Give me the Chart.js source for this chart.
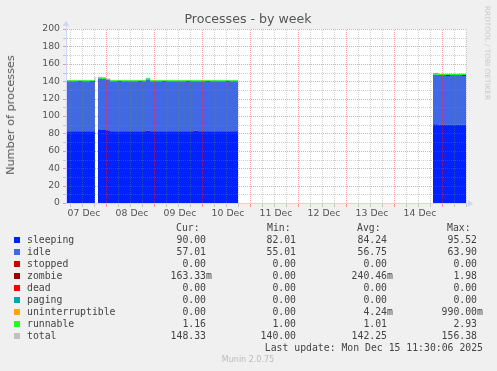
<!DOCTYPE html>
<html>
<head>
<meta charset="utf-8">
<script src="https://cdn.jsdelivr.net/npm/chart.js@4.4.1/dist/chart.umd.min.js"></script>
<style>
  body { margin: 0; background: #f0f0f0; width: 497px; height: 371px; overflow: hidden; position: relative; font-family: "DejaVu Sans", sans-serif; }
  #chart { position: absolute; left: 0; top: 0; }
  .t { position: absolute; white-space: pre; line-height: 12px; }
  .mono { font-family: "DejaVu Sans Mono", monospace; font-size: 9.8px; color: #444; }
</style>
</head>
<body>
<canvas id="chart" width="497" height="371"></canvas>
<div id="texts"></div>
<script>
// hours since 07 Dec 00:00, null entries split the gaps
const hours = [
  4.5, 6, 8, 10, 12, 14, 16, 18.5,
  19,
  20, 22, 24, 26, 28, 30, 32, 34, 36, 38, 40, 42,
  44, 46, 48, 50, 52, 54, 56, 58, 60, 62, 64, 66,
  68, 70, 72, 74, 76, 78, 80, 82, 84, 86, 88, 90,
  91,
  187.5, 190, 192, 194, 196, 198, 200, 202, 204
];
const sleeping = [
  82.5, 82.5, 82.5, 82.5, 82.5, 82.5, 82.5, 83,
  null,
  84, 84, 83.5, 82.5, 82.5, 82.5, 82.5, 82.5, 82.5, 82.5, 82.5, 82.5,
  83, 82.5, 82.5, 82.5, 82.5, 82.5, 82.5, 82.5, 82.5, 82.5, 82.5, 82.5,
  83, 82.5, 82.5, 82.5, 82.5, 82.5, 82.5, 82.5, 82.5, 82.5, 82.5, 82.5,
  null,
  90.5, 90, 90, 90, 90, 90, 90, 90, 90
];
const idle = [
  57.5, 57.5, 57.5, 56.5, 57.5, 57.5, 56.5, 60.5,
  null,
  59, 58.5, 58, 57.5, 57.5, 56.5, 57.5, 57.5, 57.5, 57.5, 56.5, 57.5,
  59, 57.5, 57.5, 57.5, 56.5, 57.5, 57.5, 57.5, 57.5, 57.5, 56.5, 57.5,
  57, 57.5, 57.5, 56.5, 57.5, 57.5, 57.5, 57.5, 56.5, 57.5, 57.5, 57.5,
  null,
  57, 57, 57, 56, 57, 57, 57, 56, 57
];
const stopped = [
  0, 0, 0, 0, 0, 0, 0, 0,
  null,
  0, 0, 0, 0, 0, 0, 0, 0, 0, 0, 0, 0,
  0, 0, 0, 0, 0, 0, 0, 0, 0, 0, 0, 0,
  0, 0, 0, 0, 0, 0, 0, 0, 0, 0, 0, 0,
  null,
  0, 0, 0, 0, 0, 0, 0, 0, 0
];
const zombie = [
  0, 0, 0, 1, 0, 0, 1, 0,
  null,
  0, 0, 0, 0, 0, 1, 0, 0, 0, 0, 1, 0,
  0, 0, 0, 0, 1, 0, 0, 0, 0, 0, 1, 0,
  0, 0, 0, 1, 0, 0, 0, 0, 1, 0, 0, 0,
  null,
  0, 0, 0, 1, 0, 0, 0, 1, 0
];
const dead = [
  0, 0, 0, 0, 0, 0, 0, 0,
  null,
  0, 0, 0, 0, 0, 0, 0, 0, 0, 0, 0, 0,
  0, 0, 0, 0, 0, 0, 0, 0, 0, 0, 0, 0,
  0, 0, 0, 0, 0, 0, 0, 0, 0, 0, 0, 0,
  null,
  0, 0, 0, 0, 0, 0, 0, 0, 0
];
const paging = [
  0, 0, 0, 0, 0, 0, 0, 0,
  null,
  0, 0, 0, 0, 0, 0, 0, 0, 0, 0, 0, 0,
  0, 0, 0, 0, 0, 0, 0, 0, 0, 0, 0, 0,
  0, 0, 0, 0, 0, 0, 0, 0, 0, 0, 0, 0,
  null,
  0, 0, 0, 0, 0, 0, 0, 0, 0
];
const uninterruptible = [
  0, 0, 0, 0, 0, 0, 0, 0,
  null,
  0, 0, 0, 0, 0, 0, 0, 0, 0, 0, 0, 0,
  0, 0, 0, 0, 0, 0, 0, 0, 0, 0, 0, 0,
  0, 0, 0, 0, 0, 0, 0, 0, 0, 0, 0, 0,
  null,
  0, 0, 0, 0, 0, 0, 0, 0, 0
];
const runnable = [
  1, 1, 1, 1, 1, 1, 1, 1.5,
  null,
  1.5, 1.5, 1, 1, 1, 1, 1, 1, 1, 1, 1, 1,
  1.5, 1, 1, 1, 1, 1, 1, 1, 1, 1, 1, 1,
  1, 1, 1, 1, 1, 1, 1, 1, 1, 1, 1, 1,
  null,
  1.5, 1.2, 1.2, 1.2, 1.2, 1.2, 1.2, 1.2, 1.2
];
const total = [
  141, 141, 141, 141, 141, 141, 141, 145,
  null,
  144.5, 144, 142.5, 141, 141, 141, 141, 141, 141, 141, 141, 141,
  143.5, 141, 141, 141, 141, 141, 141, 141, 141, 141, 141, 141,
  141, 141, 141, 141, 141, 141, 141, 141, 141, 141, 141, 141,
  null,
  149, 148.2, 148.2, 148.2, 148.2, 148.2, 148.2, 148.2, 148.2
];

const dayLabels = ["07 Dec", "08 Dec", "09 Dec", "10 Dec", "11 Dec", "12 Dec", "13 Dec", "14 Dec"];
// grid positions: major (labelled) and minor lines
const yMajor = [0, 20, 40, 60, 80, 100, 120, 140, 160, 180, 200];
const yMinor = [10, 30, 50, 70, 90, 110, 130, 150, 170, 190];
const xMajor = [24, 48, 72, 96, 120, 144, 168, 192];
const xMinor = [6, 12, 18, 30, 36, 42, 54, 60, 66, 78, 84, 90, 102, 108, 114, 126, 132, 138, 150, 156, 162, 174, 180, 186, 198, 204];
const xLabelHours = [12, 36, 60, 84, 108, 132, 156, 180];

const seriesNames = ["sleeping", "idle", "stopped", "zombie", "dead", "paging", "uninterruptible", "runnable", "total"];
const seriesColors = ["#0022ff", "#4169e1", "#cc0000", "#990000", "#ff0000", "#00aaaa", "#ffa500", "#22ff22", "#c0c0c0"];
const statCur = ["90.00", "57.01", "0.00", "163.33m", "0.00", "0.00", "0.00", "1.16", "148.33"];
const statMin = ["82.01", "55.01", "0.00", "0.00", "0.00", "0.00", "0.00", "1.00", "140.00"];
const statAvg = ["84.24", "56.75", "0.00", "240.46m", "0.00", "0.00", "4.24m", "1.01", "142.25"];
const statMax = ["95.52", "63.90", "0.00", "1.98", "0.00", "0.00", "990.00m", "2.93", "156.38"];

const MGRID = "rgba(255,40,40,0.45)";
const GRID = "rgba(128,128,128,0.38)";
const AXIS = "#cfd6f8";
const FONT = "#555";

function pts(arr) {
  return arr.map((v, i) => ({ x: hours[i], y: v }));
}

let stackSeries = [sleeping, idle, stopped, zombie, dead, paging, uninterruptible, runnable];
let datasets = stackSeries.map((arr, i) => ({
  label: seriesNames[i],
  data: pts(arr),
  stack: "procs",
  backgroundColor: seriesColors[i],
  borderColor: seriesColors[i],
  borderWidth: 0,
  fill: i == 0 ? "origin" : "-1",
  stepped: "before",
  spanGaps: false,
  pointRadius: 0,
}));
datasets.push({
  label: "total",
  data: pts(total),
  stack: "total",
  borderColor: seriesColors[8],
  borderWidth: 1,
  fill: false,
  stepped: "before",
  spanGaps: false,
  pointRadius: 0,
});

const bgPlugin = {
  id: "bg",
  beforeDraw(chart) {
    const { ctx, chartArea: a } = chart;
    ctx.save();
    ctx.fillStyle = "#ffffff";
    ctx.fillRect(a.left, a.top, a.right - a.left, a.bottom - a.top);
    ctx.restore();
  },
};

// rrdtool style dotted grid drawn over the areas, then axis and arrows
const gridPlugin = {
  id: "dotgrid",
  afterDatasetsDraw(chart) {
    const { ctx, chartArea: a, scales } = chart;
    const L = Math.round(a.left), R = Math.round(a.right), T = Math.round(a.top), B = Math.round(a.bottom);
    const hLine = (v, col) => {
      const y = Math.round(scales.y.getPixelForValue(v));
      ctx.fillStyle = col;
      for (let x = L; x < R; x += 2) ctx.fillRect(x, y, 1, 1);
      ctx.fillRect(L - 4, y, 3, 1);
    };
    const vLine = (v, col) => {
      const x = Math.round(scales.x.getPixelForValue(v));
      ctx.fillStyle = col;
      for (let y = T + 1; y < B; y += 2) ctx.fillRect(x, y, 1, 1);
      ctx.fillRect(x, B + 1, 1, 3);
    };
    ctx.save();
    yMinor.forEach((v) => hLine(v, GRID));
    xMinor.forEach((v) => vLine(v, GRID));
    yMajor.forEach((v) => hLine(v, MGRID));
    xMajor.forEach((v) => vLine(v, MGRID));
    ctx.fillStyle = AXIS;
    ctx.fillRect(L - 1, T - 4, 1, B - T + 5);
    ctx.fillRect(L - 1, B, R - L + 4, 1);
    ctx.beginPath();
    ctx.moveTo(L - 4.5, T - 3);
    ctx.lineTo(L + 2.5, T - 3);
    ctx.lineTo(L - 1, T - 8);
    ctx.closePath();
    ctx.fill();
    ctx.beginPath();
    ctx.moveTo(R + 2, B - 3);
    ctx.lineTo(R + 2, B + 4);
    ctx.lineTo(R + 7, B + 0.5);
    ctx.closePath();
    ctx.fill();
    ctx.restore();
  },
};

new Chart(document.getElementById("chart"), {
  type: "line",
  data: { datasets: datasets },
  options: {
    responsive: false,
    animation: false,
    devicePixelRatio: 1,
    layout: { padding: { left: 0, top: 29, right: 31, bottom: 148 } },
    plugins: { legend: { display: false }, tooltip: { enabled: false }, title: { display: false } },
    scales: {
      x: {
        type: "linear",
        min: 4.5,
        max: 204,
        afterFit(s) { s.height = 20; },
        afterBuildTicks(s) { s.ticks = xLabelHours.map((v) => ({ value: v })); },
        ticks: {
          autoSkip: false,
          maxRotation: 0,
          padding: 5,
          labelOffset: 2,
          color: FONT,
          font: { family: "DejaVu Sans", size: 9.3 },
          callback: (v, i) => dayLabels[i],
        },
        grid: { display: false, drawTicks: false },
        border: { display: false },
      },
      y: {
        stacked: true,
        min: 0,
        max: 200,
        afterFit(s) { s.width = 67; },
        afterBuildTicks(s) { s.ticks = yMajor.map((v) => ({ value: v })); },
        ticks: {
          autoSkip: false,
          padding: 7,
          color: FONT,
          font: { family: "DejaVu Sans", size: 9.3 },
        },
        grid: { display: false, drawTicks: false },
        border: { display: false },
      },
    },
  },
  plugins: [bgPlugin, gridPlugin],
});

// texts around the chart
const box = document.getElementById("texts");
function addText(txt, css, cls) {
  let d = document.createElement("div");
  d.className = "t" + (cls ? " " + cls : "");
  d.textContent = txt;
  d.style.cssText += css;
  box.appendChild(d);
  return d;
}
addText("Processes - by week", `left:248px;top:13px;transform:translateX(-50%);font-size:12.6px;color:${FONT};`);
addText("Number of processes", `left:11px;top:115px;transform:translate(-50%,-50%) rotate(-90deg);font-size:11.3px;color:${FONT};`);
addText("RRDTOOL / TOBI OETIKER", "left:487px;top:53px;transform:translate(-50%,-50%) rotate(90deg);font-size:7.3px;color:#c8c8c8;");

const cw = 5.9;
const cols = [
  { head: "Cur:", left: 176, right: 206, vals: statCur },
  { head: "Min:", left: 267, right: 296, vals: statMin },
  { head: "Avg:", left: 357, right: 387, vals: statAvg },
  { head: "Max:", left: 447, right: 477, vals: statMax },
];
cols.forEach((c) => addText(c.head, `left:${c.left}px;top:222px;`, "mono"));
seriesNames.forEach((name, i) => {
  let y = 240 + i * 12;
  let sq = document.createElement("div");
  sq.style.cssText = `position:absolute;left:14px;top:${y - 3}px;width:6px;height:6px;background:${seriesColors[i]};`;
  box.appendChild(sq);
  addText(name, `left:27px;top:${y - 6}px;`, "mono");
  cols.forEach((c) => {
    let v = c.vals[i];
    let edge = c.right + (v.endsWith("m") ? cw : 0);
    addText(v, `right:${497 - edge}px;top:${y - 6}px;`, "mono");
  });
});
addText("Last update: Mon Dec 15 11:30:06 2025", "right:14px;top:342px;", "mono");
addText("Munin 2.0.75", "left:248px;top:354px;transform:translateX(-50%);font-size:8px;color:#bbb;");
</script>
</body>
</html>
